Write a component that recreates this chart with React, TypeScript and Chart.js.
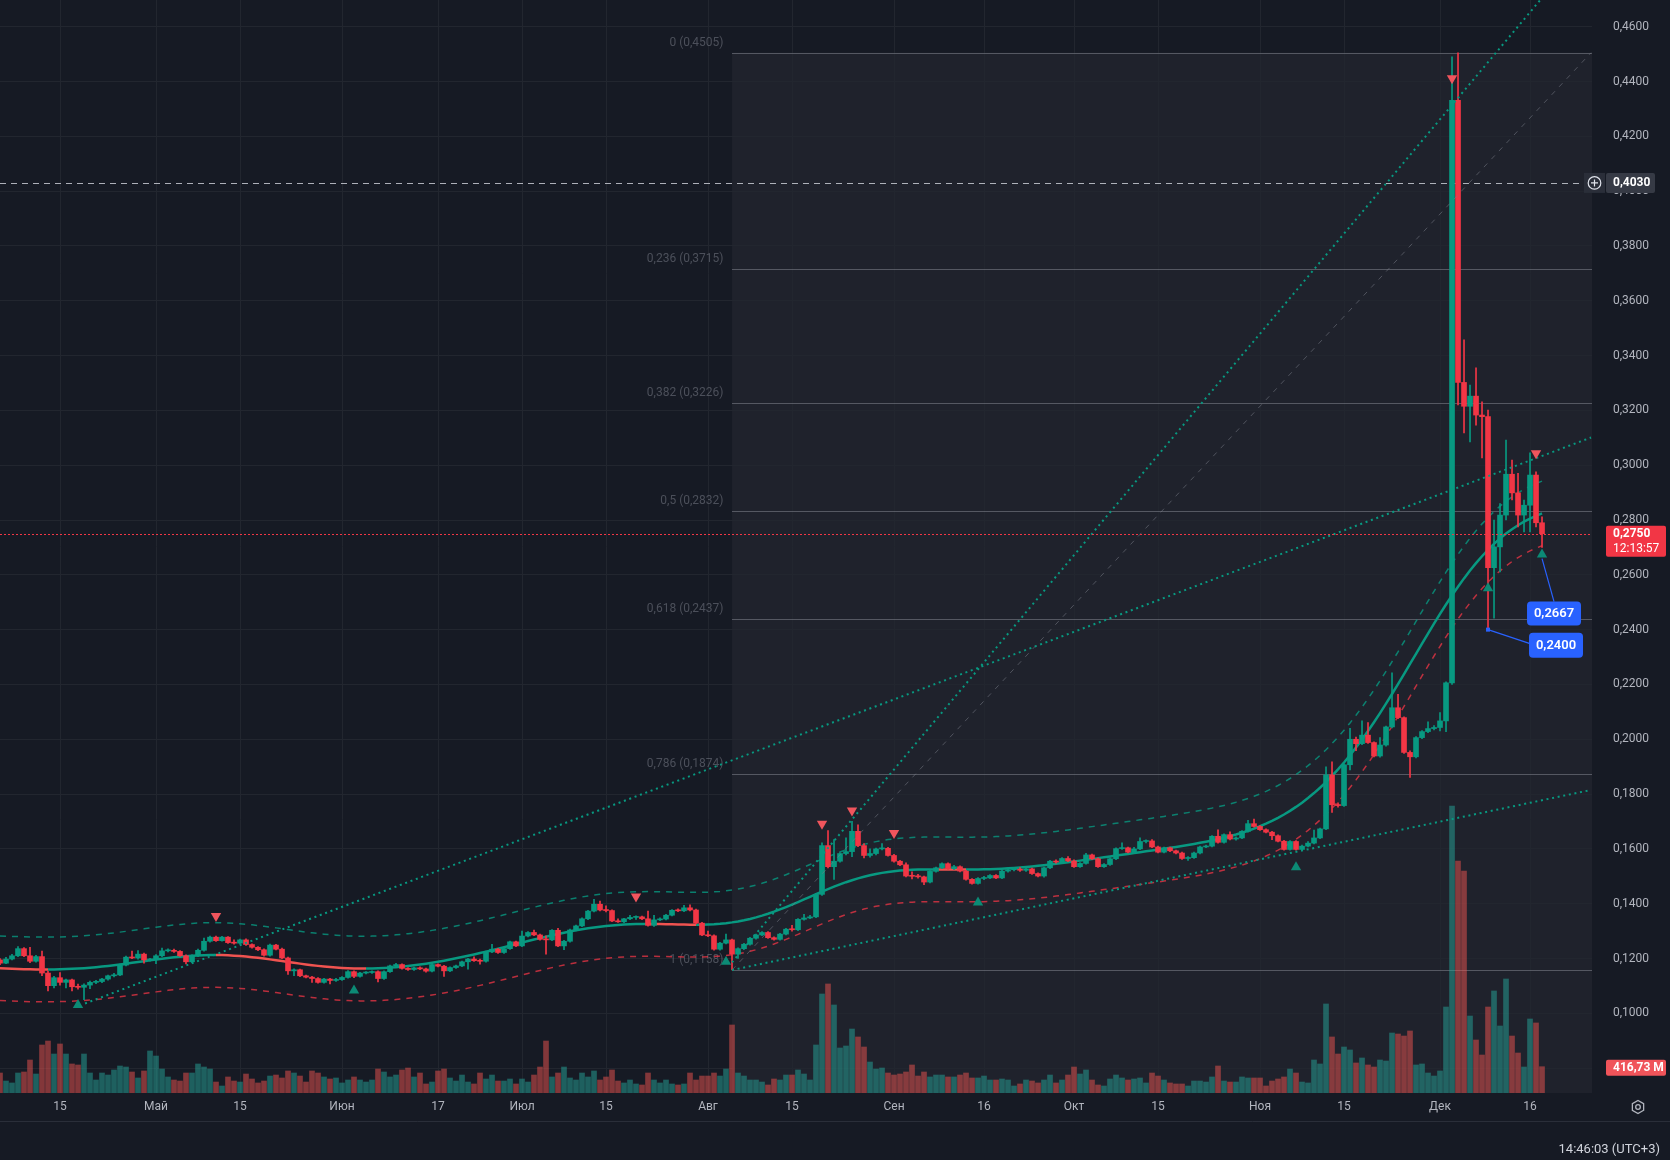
import React, { useEffect, useRef } from 'react';
import { Chart, registerables } from 'chart.js';

Chart.register(...registerables);

// ---------------- DATA (daily candles, 5 Apr .. 18 Dec) ----------------
const OPEN = [
  0.1195, 0.1183, 0.1198, 0.1210, 0.1236, 0.1210, 0.1190, 0.1207, 0.1147, 0.1101,
  0.1130, 0.1113, 0.1122, 0.1097, 0.1095, 0.1103, 0.1113, 0.1116, 0.1125, 0.1137,
  0.1140, 0.1176, 0.1205, 0.1202, 0.1216, 0.1195, 0.1197, 0.1210, 0.1228, 0.1230,
  0.1226, 0.1210, 0.1188, 0.1210, 0.1230, 0.1263, 0.1278, 0.1265, 0.1278, 0.1258,
  0.1256, 0.1268, 0.1251, 0.1241, 0.1232, 0.1212, 0.1249, 0.1234, 0.1202, 0.1155,
  0.1159, 0.1137, 0.1132, 0.1127, 0.1113, 0.1125, 0.1120, 0.1123, 0.1131, 0.1152,
  0.1135, 0.1147, 0.1149, 0.1152, 0.1127, 0.1152, 0.1173, 0.1178, 0.1164, 0.1160,
  0.1166, 0.1162, 0.1154, 0.1178, 0.1172, 0.1155, 0.1167, 0.1173, 0.1188, 0.1198,
  0.1192, 0.1190, 0.1224, 0.1234, 0.1222, 0.1236, 0.1261, 0.1246, 0.1282, 0.1295,
  0.1286, 0.1270, 0.1268, 0.1303, 0.1246, 0.1263, 0.1304, 0.1319, 0.1345, 0.1373,
  0.1398, 0.1377, 0.1375, 0.1337, 0.1334, 0.1345, 0.1350, 0.1352, 0.1345, 0.1321,
  0.1341, 0.1344, 0.1358, 0.1376, 0.1374, 0.1385, 0.1377, 0.1329, 0.1286, 0.1283,
  0.1234, 0.1256, 0.1268, 0.1216, 0.1236, 0.1252, 0.1274, 0.1286, 0.1295, 0.1276,
  0.1270, 0.1289, 0.1307, 0.1305, 0.1343, 0.1348, 0.1352, 0.1434, 0.1612, 0.1535,
  0.1555, 0.1583, 0.1590, 0.1664, 0.1612, 0.1576, 0.1583, 0.1600, 0.1602, 0.1576,
  0.1555, 0.1542, 0.1501, 0.1500, 0.1498, 0.1479, 0.1518, 0.1531, 0.1546, 0.1528,
  0.1535, 0.1519, 0.1489, 0.1474, 0.1492, 0.1494, 0.1503, 0.1494, 0.1519, 0.1524,
  0.1526, 0.1522, 0.1527, 0.1510, 0.1501, 0.1531, 0.1555, 0.1552, 0.1565, 0.1556,
  0.1535, 0.1547, 0.1578, 0.1564, 0.1535, 0.1543, 0.1564, 0.1601, 0.1604, 0.1588,
  0.1600, 0.1627, 0.1629, 0.1607, 0.1588, 0.1604, 0.1593, 0.1585, 0.1565, 0.1568,
  0.1585, 0.1607, 0.1610, 0.1646, 0.1624, 0.1652, 0.1636, 0.1640, 0.1664, 0.1692,
  0.1682, 0.1670, 0.1661, 0.1648, 0.1628, 0.1598, 0.1627, 0.1598, 0.1610, 0.1621,
  0.1640, 0.1673, 0.1870, 0.1761, 0.1758, 0.1907, 0.2000, 0.1984, 0.2015, 0.1988,
  0.1939, 0.1979, 0.2045, 0.2115, 0.2079, 0.1952, 0.1936, 0.2006, 0.2028, 0.2039,
  0.2043, 0.2067, 0.2206, 0.4331, 0.3302, 0.3215, 0.3252, 0.3183, 0.3177, 0.2626,
  0.2702, 0.2818, 0.2967, 0.2899, 0.2818, 0.2854, 0.2964, 0.2790,
];
const HIGH = [
  0.1200, 0.1204, 0.1215, 0.1244, 0.1240, 0.1241, 0.1212, 0.1227, 0.1154, 0.1135,
  0.1149, 0.1125, 0.1125, 0.1107, 0.1108, 0.1118, 0.1120, 0.1128, 0.1140, 0.1146,
  0.1180, 0.1209, 0.1227, 0.1229, 0.1220, 0.1201, 0.1214, 0.1238, 0.1235, 0.1234,
  0.1229, 0.1213, 0.1213, 0.1234, 0.1275, 0.1282, 0.1282, 0.1281, 0.1280, 0.1268,
  0.1271, 0.1272, 0.1254, 0.1244, 0.1235, 0.1253, 0.1252, 0.1238, 0.1205, 0.1162,
  0.1161, 0.1140, 0.1135, 0.1130, 0.1128, 0.1128, 0.1128, 0.1134, 0.1156, 0.1155,
  0.1150, 0.1152, 0.1155, 0.1155, 0.1155, 0.1176, 0.1182, 0.1181, 0.1167, 0.1169,
  0.1170, 0.1165, 0.1182, 0.1181, 0.1175, 0.1170, 0.1176, 0.1191, 0.1201, 0.1206,
  0.1198, 0.1227, 0.1252, 0.1237, 0.1239, 0.1264, 0.1264, 0.1300, 0.1298, 0.1304,
  0.1289, 0.1283, 0.1306, 0.1310, 0.1266, 0.1307, 0.1322, 0.1348, 0.1376, 0.1416,
  0.1410, 0.1392, 0.1378, 0.1345, 0.1347, 0.1358, 0.1356, 0.1355, 0.1373, 0.1358,
  0.1348, 0.1361, 0.1379, 0.1381, 0.1394, 0.1396, 0.1380, 0.1332, 0.1300, 0.1286,
  0.1259, 0.1289, 0.1271, 0.1239, 0.1255, 0.1277, 0.1289, 0.1298, 0.1298, 0.1279,
  0.1292, 0.1310, 0.1321, 0.1346, 0.1361, 0.1358, 0.1437, 0.1622, 0.1667, 0.1634,
  0.1586, 0.1640, 0.1701, 0.1688, 0.1619, 0.1600, 0.1603, 0.1619, 0.1606, 0.1580,
  0.1558, 0.1549, 0.1516, 0.1507, 0.1501, 0.1521, 0.1534, 0.1549, 0.1549, 0.1540,
  0.1538, 0.1522, 0.1492, 0.1495, 0.1500, 0.1506, 0.1506, 0.1522, 0.1530, 0.1530,
  0.1532, 0.1530, 0.1530, 0.1513, 0.1534, 0.1558, 0.1560, 0.1568, 0.1572, 0.1560,
  0.1550, 0.1584, 0.1581, 0.1567, 0.1546, 0.1567, 0.1604, 0.1622, 0.1607, 0.1606,
  0.1640, 0.1633, 0.1634, 0.1610, 0.1607, 0.1607, 0.1596, 0.1588, 0.1572, 0.1588,
  0.1610, 0.1614, 0.1649, 0.1670, 0.1655, 0.1662, 0.1644, 0.1667, 0.1704, 0.1709,
  0.1685, 0.1673, 0.1664, 0.1651, 0.1631, 0.1630, 0.1630, 0.1614, 0.1627, 0.1669,
  0.1676, 0.1899, 0.1918, 0.1768, 0.1910, 0.2040, 0.2008, 0.2067, 0.2061, 0.1991,
  0.2006, 0.2048, 0.2242, 0.2164, 0.2082, 0.1958, 0.2010, 0.2032, 0.2064, 0.2050,
  0.2097, 0.2210, 0.4490, 0.4505, 0.3457, 0.3292, 0.3355, 0.3231, 0.3201, 0.2800,
  0.2860, 0.3092, 0.3019, 0.2970, 0.2873, 0.3045, 0.2976, 0.2812,
];
const LOW = [
  0.1178, 0.1181, 0.1195, 0.1207, 0.1207, 0.1185, 0.1187, 0.1137, 0.1082, 0.1093,
  0.1103, 0.1093, 0.1082, 0.1088, 0.1050, 0.1090, 0.1108, 0.1112, 0.1121, 0.1133,
  0.1137, 0.1173, 0.1199, 0.1198, 0.1183, 0.1190, 0.1181, 0.1207, 0.1224, 0.1222,
  0.1208, 0.1180, 0.1185, 0.1207, 0.1227, 0.1260, 0.1262, 0.1263, 0.1255, 0.1252,
  0.1252, 0.1248, 0.1238, 0.1229, 0.1209, 0.1209, 0.1231, 0.1199, 0.1142, 0.1137,
  0.1134, 0.1129, 0.1113, 0.1110, 0.1110, 0.1107, 0.1116, 0.1120, 0.1128, 0.1130,
  0.1132, 0.1144, 0.1146, 0.1115, 0.1124, 0.1149, 0.1170, 0.1161, 0.1157, 0.1157,
  0.1159, 0.1150, 0.1151, 0.1169, 0.1135, 0.1152, 0.1164, 0.1170, 0.1161, 0.1189,
  0.1179, 0.1187, 0.1221, 0.1219, 0.1219, 0.1233, 0.1243, 0.1243, 0.1279, 0.1283,
  0.1267, 0.1216, 0.1265, 0.1243, 0.1232, 0.1260, 0.1301, 0.1316, 0.1342, 0.1370,
  0.1374, 0.1370, 0.1334, 0.1332, 0.1331, 0.1342, 0.1343, 0.1342, 0.1318, 0.1317,
  0.1338, 0.1341, 0.1355, 0.1371, 0.1371, 0.1374, 0.1326, 0.1283, 0.1280, 0.1230,
  0.1230, 0.1253, 0.1158, 0.1200, 0.1233, 0.1249, 0.1271, 0.1283, 0.1273, 0.1267,
  0.1267, 0.1286, 0.1300, 0.1302, 0.1340, 0.1345, 0.1349, 0.1430, 0.1531, 0.1489,
  0.1552, 0.1578, 0.1572, 0.1608, 0.1567, 0.1570, 0.1578, 0.1596, 0.1573, 0.1552,
  0.1539, 0.1498, 0.1490, 0.1493, 0.1469, 0.1476, 0.1515, 0.1528, 0.1525, 0.1524,
  0.1516, 0.1486, 0.1471, 0.1471, 0.1488, 0.1491, 0.1491, 0.1491, 0.1515, 0.1520,
  0.1518, 0.1518, 0.1507, 0.1498, 0.1497, 0.1528, 0.1548, 0.1549, 0.1553, 0.1532,
  0.1532, 0.1544, 0.1561, 0.1532, 0.1532, 0.1540, 0.1561, 0.1598, 0.1585, 0.1585,
  0.1597, 0.1622, 0.1604, 0.1585, 0.1585, 0.1590, 0.1582, 0.1562, 0.1558, 0.1565,
  0.1582, 0.1604, 0.1607, 0.1621, 0.1621, 0.1633, 0.1632, 0.1637, 0.1661, 0.1679,
  0.1667, 0.1658, 0.1634, 0.1625, 0.1595, 0.1595, 0.1595, 0.1594, 0.1607, 0.1618,
  0.1637, 0.1670, 0.1733, 0.1752, 0.1755, 0.1888, 0.1958, 0.1980, 0.1985, 0.1936,
  0.1935, 0.1975, 0.2041, 0.2075, 0.1948, 0.1861, 0.1932, 0.2002, 0.2024, 0.2034,
  0.2030, 0.2028, 0.2200, 0.3220, 0.3118, 0.3085, 0.3146, 0.3027, 0.2400, 0.2442,
  0.2611, 0.2800, 0.2873, 0.2775, 0.2757, 0.2757, 0.2775, 0.2700,
];
const CLOSE = [
  0.1183, 0.1198, 0.1210, 0.1236, 0.1210, 0.1190, 0.1207, 0.1147, 0.1101, 0.1130,
  0.1113, 0.1122, 0.1097, 0.1095, 0.1103, 0.1113, 0.1116, 0.1125, 0.1137, 0.1140,
  0.1176, 0.1205, 0.1202, 0.1216, 0.1195, 0.1197, 0.1210, 0.1228, 0.1230, 0.1226,
  0.1210, 0.1188, 0.1210, 0.1230, 0.1263, 0.1278, 0.1265, 0.1278, 0.1258, 0.1256,
  0.1268, 0.1251, 0.1241, 0.1232, 0.1212, 0.1249, 0.1234, 0.1202, 0.1155, 0.1159,
  0.1137, 0.1132, 0.1127, 0.1113, 0.1125, 0.1120, 0.1123, 0.1131, 0.1152, 0.1135,
  0.1147, 0.1149, 0.1152, 0.1127, 0.1152, 0.1173, 0.1178, 0.1164, 0.1160, 0.1166,
  0.1162, 0.1154, 0.1178, 0.1172, 0.1155, 0.1167, 0.1173, 0.1188, 0.1198, 0.1192,
  0.1190, 0.1224, 0.1234, 0.1222, 0.1236, 0.1261, 0.1246, 0.1282, 0.1295, 0.1286,
  0.1270, 0.1268, 0.1303, 0.1246, 0.1263, 0.1304, 0.1319, 0.1345, 0.1373, 0.1398,
  0.1377, 0.1375, 0.1337, 0.1334, 0.1345, 0.1350, 0.1352, 0.1345, 0.1321, 0.1341,
  0.1344, 0.1358, 0.1376, 0.1374, 0.1385, 0.1377, 0.1329, 0.1286, 0.1283, 0.1234,
  0.1256, 0.1268, 0.1216, 0.1236, 0.1252, 0.1274, 0.1286, 0.1295, 0.1276, 0.1270,
  0.1289, 0.1307, 0.1305, 0.1343, 0.1348, 0.1352, 0.1434, 0.1612, 0.1535, 0.1555,
  0.1583, 0.1590, 0.1664, 0.1612, 0.1576, 0.1583, 0.1600, 0.1602, 0.1576, 0.1555,
  0.1542, 0.1501, 0.1500, 0.1498, 0.1479, 0.1518, 0.1531, 0.1546, 0.1528, 0.1535,
  0.1519, 0.1489, 0.1474, 0.1492, 0.1494, 0.1503, 0.1494, 0.1519, 0.1524, 0.1526,
  0.1522, 0.1527, 0.1510, 0.1501, 0.1531, 0.1555, 0.1552, 0.1565, 0.1556, 0.1535,
  0.1547, 0.1578, 0.1564, 0.1535, 0.1543, 0.1564, 0.1601, 0.1604, 0.1588, 0.1600,
  0.1627, 0.1629, 0.1607, 0.1588, 0.1604, 0.1593, 0.1585, 0.1565, 0.1568, 0.1585,
  0.1607, 0.1610, 0.1646, 0.1624, 0.1652, 0.1636, 0.1640, 0.1664, 0.1692, 0.1682,
  0.1670, 0.1661, 0.1648, 0.1628, 0.1598, 0.1627, 0.1598, 0.1610, 0.1621, 0.1640,
  0.1673, 0.1870, 0.1761, 0.1758, 0.1907, 0.2000, 0.1984, 0.2015, 0.1988, 0.1939,
  0.1979, 0.2045, 0.2115, 0.2079, 0.1952, 0.1936, 0.2006, 0.2028, 0.2039, 0.2043,
  0.2067, 0.2206, 0.4331, 0.3302, 0.3215, 0.3252, 0.3183, 0.3177, 0.2626, 0.2702,
  0.2818, 0.2967, 0.2899, 0.2818, 0.2854, 0.2964, 0.2790, 0.2750,
];
// volume, millions
const VOLUME = [
  317, 190, 159, 317, 333, 523, 301, 761, 824, 618,
  777, 618, 460, 444, 618, 317, 206, 317, 285, 365,
  428, 412, 333, 238, 349, 666, 586, 380, 254, 206,
  190, 317, 317, 460, 412, 380, 174, 111, 254, 190,
  174, 301, 222, 159, 190, 269, 285, 238, 349, 317,
  269, 174, 349, 317, 254, 222, 238, 159, 206, 254,
  206, 174, 206, 380, 333, 254, 285, 365, 396, 254,
  317, 143, 174, 349, 380, 238, 190, 285, 174, 143,
  317, 222, 285, 190, 190, 222, 143, 222, 174, 285,
  412, 824, 254, 317, 412, 238, 206, 317, 254, 349,
  206, 254, 365, 190, 159, 206, 143, 127, 317, 206,
  159, 206, 143, 127, 143, 317, 206, 269, 269, 317,
  269, 380, 1078, 317, 269, 206, 206, 174, 127, 222,
  206, 285, 285, 365, 301, 206, 761, 1569, 1728, 1395,
  713, 745, 1014, 888, 729, 491, 380, 396, 317, 285,
  301, 333, 444, 269, 333, 254, 285, 285, 254, 254,
  285, 317, 238, 238, 269, 206, 206, 222, 206, 111,
  143, 206, 190, 159, 206, 285, 159, 206, 285, 412,
  301, 365, 206, 127, 111, 222, 285, 238, 206, 222,
  238, 159, 317, 269, 206, 159, 143, 143, 111, 190,
  190, 174, 254, 428, 190, 174, 174, 254, 238, 238,
  238, 111, 190, 222, 254, 380, 317, 174, 159, 523,
  460, 1411, 888, 618, 729, 682, 476, 555, 444, 412,
  523, 507, 951, 935, 903, 983, 444, 460, 317, 269,
  349, 1363, 4549, 3677, 3519, 1220, 840, 602, 1363, 1617,
  1062, 1807, 903, 634, 412, 1173, 1110, 416.73,
];

// time axis (bar index -> label)
const TIME_TICK_IDX = [10, 26, 40, 57, 73, 87, 101, 118, 132, 149, 164, 179, 193, 210, 224, 240, 255];
const TIME_TICK_LABELS = ['15', 'Май', '15', 'Июн', '17', 'Июл', '15', 'Авг', '15', 'Сен', '16', 'Окт', '15', 'Ноя', '15', 'Дек', '16'];
const PRICE_TICKS = [0.08, 0.10, 0.12, 0.14, 0.16, 0.18, 0.20, 0.22, 0.24, 0.26, 0.28, 0.30, 0.32, 0.34, 0.36, 0.38, 0.40, 0.42, 0.44, 0.46];

// Fibonacci retracement
const FIB_START_IDX = 122;
const FIB_RATIOS = ['0', '0,236', '0,382', '0,5', '0,618', '0,786', '1'];
const FIB_PRICES = [0.4505, 0.3715, 0.3226, 0.2832, 0.2437, 0.1874, 0.1158];
const FIB_DIAGONAL = [[122, 0.1158], [265.17, 0.4505]];

// trend lines [index, price]
const TREND_A = [[14.17, 0.1036], [265.17, 0.3101]];
const TREND_B = [[122, 0.1186], [265.17, 0.4918]];
const TREND_C = [[122, 0.1158], [265.17, 0.1815]];

// envelope signals
const MARKER_IDX = [13, 36, 59, 106, 121, 137, 142, 149, 163, 216, 242, 248, 256, 257];
const MARKER_PRICE = [0.1030, 0.1355, 0.1083, 0.1426, 0.1188, 0.1692, 0.1740, 0.1658, 0.1404, 0.1533, 0.4412, 0.2551, 0.3044, 0.2674];
const MARKER_DIR = ['up', 'down', 'up', 'down', 'up', 'down', 'down', 'down', 'up', 'up', 'down', 'up', 'down', 'up'];

const KERNEL_BANDWIDTH = 11;
const ENVELOPE_WIDTH = 0.0118;

const ALERT_PRICE = 0.4030;
const COUNTDOWN = '12:13:57';
const LAST_VOLUME_LABEL = '416,73 M';
const CALLOUT_A = { idx: 257, price: 0.2674, label: '0,2667' };
const CALLOUT_B = { idx: 248, price: 0.2400, label: '0,2400' };
const CLOCK_TEXT = '14:46:03 (UTC+3)';

// ---------------- STYLE ----------------
const W = 1670;
const H = 1160;
const BG = '#161a24';
const GRID = '#22262f';
const TEXT = '#b2b5be';
const UP = '#089981';
const DOWN = '#f23645';
const VOL_UP = 'rgba(38,166,154,0.5)';
const VOL_DOWN = 'rgba(239,83,80,0.5)';
const FONT = 'Roboto, "Noto Sans", sans-serif';
const Y_MIN = 0.07093;
const Y_MAX = 0.46974;
const X_MAX = 265.33;
const VOL_AXIS_MAX = 17323;

const fmt4 = (v: number) => v.toFixed(4).replace('.', ',');

function kernelSmooth(src: number[], h: number): number[] {
  return src.map((_, i) => {
    let s = 0;
    let w = 0;
    for (let j = 0; j < src.length; j++) {
      const d = i - j;
      const k = Math.exp(-(d * d) / (2 * h * h));
      s += src[j] * k;
      w += k;
    }
    return s / w;
  });
}

function roundRect(ctx: CanvasRenderingContext2D, x: number, y: number, w: number, h: number, r: number) {
  ctx.beginPath();
  ctx.moveTo(x + r, y);
  ctx.arcTo(x + w, y, x + w, y + h, r);
  ctx.arcTo(x + w, y + h, x, y + h, r);
  ctx.arcTo(x, y + h, x, y, r);
  ctx.arcTo(x, y, x + w, y, r);
  ctx.closePath();
}

const overlayPlugin = {
  id: 'overlay',
  beforeDraw(chart: any) {
    const { ctx, chartArea: a, scales } = chart;
    const x = scales.x;
    const y = scales.y;
    ctx.save();
    ctx.fillStyle = BG;
    ctx.fillRect(0, 0, chart.width, chart.height);
    const fx = x.getPixelForValue(FIB_START_IDX);
    const fy = y.getPixelForValue(FIB_PRICES[0]);
    ctx.fillStyle = 'rgba(120,123,134,0.09)';
    ctx.fillRect(fx, fy, a.right - fx, a.bottom - fy);
    ctx.restore();
  },
  beforeDatasetsDraw(chart: any) {
    const { ctx, chartArea: a, scales } = chart;
    const x = scales.x;
    const y = scales.y;
    const fx = x.getPixelForValue(FIB_START_IDX);
    ctx.save();
    ctx.beginPath();
    ctx.rect(a.left, a.top, a.right - a.left, a.bottom - a.top);
    ctx.clip();
    // fib levels
    ctx.lineWidth = 1;
    ctx.strokeStyle = 'rgba(130,133,144,0.55)';
    ctx.font = `12px ${FONT}`;
    ctx.textAlign = 'right';
    ctx.textBaseline = 'alphabetic';
    FIB_PRICES.forEach((p, i) => {
      const py = Math.round(y.getPixelForValue(p)) + 0.5;
      ctx.beginPath();
      ctx.moveTo(fx, py);
      ctx.lineTo(a.right, py);
      ctx.stroke();
      ctx.fillStyle = 'rgba(120,123,134,0.55)';
      ctx.fillText(`${FIB_RATIOS[i]} (${fmt4(p)})`, fx - 8.5, py - 8);
    });
    // alert line
    const ay = Math.round(y.getPixelForValue(ALERT_PRICE)) + 0.5;
    ctx.strokeStyle = 'rgba(200,203,212,0.85)';
    ctx.setLineDash([6, 5]);
    ctx.beginPath();
    ctx.moveTo(a.left, ay);
    ctx.lineTo(a.right - 8, ay);
    ctx.stroke();
    ctx.setLineDash([]);
    ctx.restore();
  },
  afterDraw(chart: any) {
    const { ctx, chartArea: a, scales } = chart;
    const x = scales.x;
    const y = scales.y;
    const yv = scales.yv;
    const last = CLOSE.length - 1;
    ctx.save();
    // current price dotted line
    const cy = Math.round(y.getPixelForValue(CLOSE[last])) + 0.5;
    ctx.strokeStyle = DOWN;
    ctx.lineWidth = 1;
    ctx.setLineDash([2, 2]);
    ctx.beginPath();
    ctx.moveTo(a.left, cy);
    ctx.lineTo(a.right, cy);
    ctx.stroke();
    ctx.setLineDash([]);

    // callouts
    const c1x = x.getPixelForValue(CALLOUT_A.idx);
    const c1y = y.getPixelForValue(CALLOUT_A.price);
    ctx.strokeStyle = '#2962ff';
    ctx.lineWidth = 1.2;
    ctx.beginPath();
    ctx.moveTo(c1x, c1y + 4);
    ctx.lineTo(c1x + 12, c1y + 47);
    ctx.stroke();
    ctx.fillStyle = '#2962ff';
    roundRect(ctx, c1x - 15, c1y + 47, 54, 24, 4);
    ctx.fill();
    const c2x = x.getPixelForValue(CALLOUT_B.idx);
    const c2y = y.getPixelForValue(CALLOUT_B.price);
    ctx.beginPath();
    ctx.moveTo(c2x, c2y);
    ctx.lineTo(c2x + 42, c2y + 14);
    ctx.stroke();
    ctx.fillRect(c2x - 2, c2y - 2, 4, 4);
    roundRect(ctx, c2x + 41, c2y + 3, 54, 25, 4);
    ctx.fill();
    ctx.fillStyle = '#ffffff';
    ctx.font = `600 13px ${FONT}`;
    ctx.textAlign = 'center';
    ctx.textBaseline = 'middle';
    ctx.fillText(CALLOUT_A.label, c1x + 12, c1y + 59.5);
    ctx.fillText(CALLOUT_B.label, c2x + 68, c2y + 16);

    // axis: alert label
    const ayc = y.getPixelForValue(ALERT_PRICE);
    ctx.fillStyle = '#2a2e39';
    ctx.fillRect(1584, ayc - 10, 21, 20);
    ctx.fillStyle = '#363a45';
    roundRect(ctx, 1606, ayc - 10, 49, 20, 2);
    ctx.fill();
    ctx.strokeStyle = '#e0e3eb';
    ctx.lineWidth = 1.2;
    ctx.beginPath();
    ctx.arc(1594.5, ayc, 6.3, 0, Math.PI * 2);
    ctx.stroke();
    ctx.beginPath();
    ctx.moveTo(1591, ayc);
    ctx.lineTo(1598, ayc);
    ctx.moveTo(1594.5, ayc - 3.5);
    ctx.lineTo(1594.5, ayc + 3.5);
    ctx.stroke();
    ctx.fillStyle = '#ffffff';
    ctx.font = `bold 12px ${FONT}`;
    ctx.textAlign = 'left';
    ctx.textBaseline = 'middle';
    ctx.fillText(fmt4(ALERT_PRICE), 1613, ayc + 0.5);

    // axis: last price label
    const py0 = y.getPixelForValue(CLOSE[last]);
    ctx.fillStyle = DOWN;
    roundRect(ctx, 1606, py0 - 8, 60, 31, 2);
    ctx.fill();
    ctx.fillStyle = '#ffffff';
    ctx.font = `bold 12px ${FONT}`;
    ctx.fillText(fmt4(CLOSE[last]), 1613, py0 + 0.5);
    ctx.font = `12px ${FONT}`;
    ctx.fillText(COUNTDOWN, 1613, py0 + 15);

    // axis: volume label
    const vy = yv.getPixelForValue(VOLUME[last]);
    ctx.fillStyle = '#f0545a';
    roundRect(ctx, 1606, vy - 7, 60, 16, 2);
    ctx.fill();
    ctx.fillStyle = '#ffffff';
    ctx.font = `bold 12px ${FONT}`;
    ctx.fillText(LAST_VOLUME_LABEL, 1613, vy + 1.5);

    // bottom separator + clock
    ctx.strokeStyle = '#2a2e39';
    ctx.lineWidth = 1;
    ctx.beginPath();
    ctx.moveTo(0, 1121.5);
    ctx.lineTo(W, 1121.5);
    ctx.stroke();
    ctx.fillStyle = '#d1d4dc';
    ctx.font = `13px ${FONT}`;
    ctx.textAlign = 'right';
    ctx.fillText(CLOCK_TEXT, 1660, 1150);
    // settings icon
    ctx.strokeStyle = TEXT;
    ctx.lineWidth = 1.3;
    ctx.beginPath();
    for (let i = 0; i < 6; i++) {
      const ang = Math.PI / 6 + (i * Math.PI) / 3;
      const px = 1638 + 6.5 * Math.cos(ang);
      const pyy = 1107 + 6.5 * Math.sin(ang);
      if (i === 0) ctx.moveTo(px, pyy);
      else ctx.lineTo(px, pyy);
    }
    ctx.closePath();
    ctx.stroke();
    ctx.beginPath();
    ctx.arc(1638, 1107, 2.3, 0, Math.PI * 2);
    ctx.stroke();
    ctx.restore();
  },
};

export default function App() {
  const ref = useRef<HTMLCanvasElement>(null);

  useEffect(() => {
    const canvas = ref.current;
    if (!canvas) return;
    const idx = CLOSE.map((_, i) => i);
    const isUp = (i: number) => CLOSE[i] >= OPEN[i];
    const mid = kernelSmooth(CLOSE, KERNEL_BANDWIDTH);

    const chart = new Chart(canvas, {
      type: 'line',
      data: {
        datasets: [
          {
            type: 'bar',
            label: 'volume',
            yAxisID: 'yv',
            data: idx.map((i) => ({ x: i, y: VOLUME[i] })),
            backgroundColor: idx.map((i) => (isUp(i) ? VOL_UP : VOL_DOWN)),
            barThickness: 5,
            grouped: false,
            borderWidth: 0,
            order: 60,
          },
          {
            type: 'line',
            label: 'upper',
            data: mid.map((v, i) => ({ x: i, y: v + ENVELOPE_WIDTH })),
            borderColor: 'rgba(8,153,129,0.8)',
            borderWidth: 1.5,
            borderDash: [6, 6],
            pointRadius: 0,
            order: 45,
          },
          {
            type: 'line',
            label: 'lower',
            data: mid.map((v, i) => ({ x: i, y: v - ENVELOPE_WIDTH })),
            borderColor: 'rgba(242,54,69,0.75)',
            borderWidth: 1.5,
            borderDash: [6, 6],
            pointRadius: 0,
            order: 44,
          },
          {
            type: 'line',
            label: 'kernel',
            data: mid.map((v, i) => ({ x: i, y: v })),
            borderColor: UP,
            borderWidth: 2.5,
            pointRadius: 0,
            segment: {
              borderColor: (c: any) => (c.p1.parsed.y >= c.p0.parsed.y ? '#089981' : '#f05350'),
            },
            order: 40,
          },
          {
            type: 'bar',
            label: 'wicks',
            data: idx.map((i) => ({ x: i, y: [LOW[i], HIGH[i]] })),
            backgroundColor: idx.map((i) => (isUp(i) ? UP : DOWN)),
            barThickness: 1,
            grouped: false,
            borderWidth: 0,
            order: 30,
          },
          {
            type: 'bar',
            label: 'bodies',
            data: idx.map((i) => ({ x: i, y: [OPEN[i], CLOSE[i]] })),
            backgroundColor: idx.map((i) => (isUp(i) ? UP : DOWN)),
            barThickness: 5,
            minBarLength: 1,
            grouped: false,
            borderWidth: 0,
            order: 20,
          },
          {
            type: 'line',
            label: 'fibDiag',
            data: FIB_DIAGONAL.map((p) => ({ x: p[0], y: p[1] })),
            borderColor: 'rgba(120,123,134,0.55)',
            borderWidth: 1,
            borderDash: [5, 6],
            pointRadius: 0,
            order: 12,
          },
          ...[TREND_A, TREND_B, TREND_C].map((t, n) => ({
            type: 'line',
            label: 'trend' + n,
            data: t.map((p) => ({ x: p[0], y: p[1] })),
            borderColor: '#089981',
            borderWidth: 2,
            borderDash: [2, 3.7],
            pointRadius: 0,
            order: 10,
          })),
          {
            type: 'line',
            label: 'signals',
            data: MARKER_IDX.map((k, i) => ({ x: k, y: MARKER_PRICE[i] })),
            showLine: false,
            pointStyle: 'triangle',
            pointRadius: 6,
            pointRotation: MARKER_DIR.map((d) => (d === 'down' ? 180 : 0)),
            pointBackgroundColor: MARKER_DIR.map((d) => (d === 'down' ? '#f0555d' : '#0c8a75')),
            pointBorderWidth: 0,
            order: 5,
          },
        ] as any,
      },
      options: {
        responsive: false,
        animation: false,
        devicePixelRatio: 1,
        events: [],
        layout: { autoPadding: false, padding: { left: 0, right: 0, top: 0, bottom: 39 } },
        plugins: { legend: { display: false }, tooltip: { enabled: false } },
        scales: {
          x: {
            type: 'linear',
            min: 0,
            max: X_MAX,
            offset: false,
            afterBuildTicks: (s: any) => {
              s.ticks = TIME_TICK_IDX.map((v) => ({ value: v }));
            },
            afterFit: (s: any) => {
              s.height = 28;
              s.paddingLeft = 0;
              s.paddingRight = 0;
            },
            grid: { color: GRID, drawTicks: false, offset: false },
            border: { display: false },
            ticks: {
              autoSkip: false,
              maxRotation: 0,
              minRotation: 0,
              padding: 7,
              color: TEXT,
              font: { size: 12, family: FONT },
              callback: (_v: any, i: number) => TIME_TICK_LABELS[i],
            },
          },
          y: {
            type: 'linear',
            position: 'right',
            min: Y_MIN,
            max: Y_MAX,
            beginAtZero: false,
            afterBuildTicks: (s: any) => {
              s.ticks = PRICE_TICKS.map((v) => ({ value: v }));
            },
            afterFit: (s: any) => {
              s.width = 78;
              s.paddingTop = 0;
              s.paddingBottom = 0;
            },
            grid: { color: GRID, drawTicks: false },
            border: { display: false },
            ticks: {
              padding: 21,
              crossAlign: 'near',
              color: TEXT,
              font: { size: 12, family: FONT },
              callback: (v: any) => (v < 0.09 ? '' : fmt4(Number(v))),
            },
          },
          yv: {
            type: 'linear',
            display: false,
            min: 0,
            max: VOL_AXIS_MAX,
          },
        },
      } as any,
      plugins: [overlayPlugin],
    });
    return () => chart.destroy();
  }, []);

  return (
    <div style={{ position: 'fixed', left: 0, top: 0, width: W, height: H, background: BG }}>
      <canvas ref={ref} width={W} height={H} style={{ display: 'block', width: W, height: H }} />
    </div>
  );
}
